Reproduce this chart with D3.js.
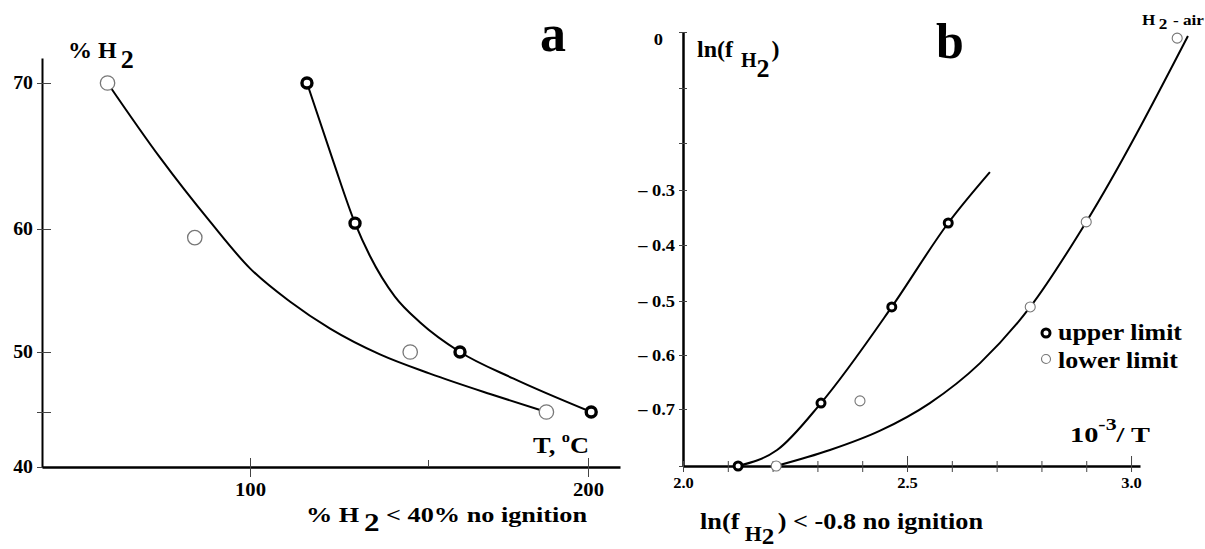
<!DOCTYPE html>
<html>
<head>
<meta charset="utf-8">
<script src="https://cdn.jsdelivr.net/npm/d3@7"></script>
<style>
    body { margin: 0; background: #fff; }
    svg text { font-family: 'Liberation Serif', 'Times New Roman', serif; font-weight: bold; fill: #000; }
</style>
</head>
<body>
<div id="chart"></div>
<script>
// ---- panel a: % H2 against T, degrees C ----
const upperA = [[116, 70], [129.5, 60.4], [160, 50], [201, 45]];
const lowerA = [[60, 70], [84.5, 59.3], [145, 50], [187, 45]];
// the hand-drawn fit lines
const upperFitA = [[116, 70], [123.3, 64.7], [129.5, 60.4], [133.7, 57.8], [140.7, 54.5], [147.8, 52.4], [160, 50], [176.6, 47.8], [201, 45]];
const lowerFitA = [[60, 70], [74.7, 64.9], [88.8, 60.5], [100, 56.8], [111.2, 54.1], [122.5, 51.9], [136.5, 49.8], [150.6, 48.2], [169.4, 46.5], [187, 45]];
const yTicksA = [40, 45, 50, 60, 70];
const yLabelsA = ['40', '', '50', '60', '70'];
const xTicksA = [100, 150, 200];
const xLabelsA = ['100', '', '200'];

// ---- panel b: ln(f H2) against 10^-3/T ----
const upperB = [[2.123, -0.8], [2.308, -0.689], [2.466, -0.511], [2.592, -0.36]];
const lowerB = [[2.208, -0.8], [2.395, -0.685], [2.775, -0.511], [2.9, -0.358], [3.103, -0.011]];
const upperFitB = [[2.123, -0.8], [2.21, -0.772], [2.308, -0.689], [2.466, -0.511], [2.592, -0.36], [2.685, -0.262]];
const lowerFitB = [[2.208, -0.8], [2.328, -0.772], [2.44, -0.738], [2.551, -0.689], [2.663, -0.615], [2.775, -0.511], [2.9, -0.358], [3.127, -0.007]];
const xTicksB = [2.0, 2.1, 2.2, 2.3, 2.4, 2.5, 2.6, 2.7, 2.8, 2.9, 3.0];
const xLabelsB = ['2.0', '', '', '', '', '2.5', '', '', '', '', '3.0'];
const yTicksB = [0, -0.1, -0.2, -0.3, -0.4, -0.5, -0.6, -0.7, -0.8];
const yLabelsB = ['0', '', '', '\u2013 0.3', '\u2013 0.4', '\u2013 0.5', '\u2013 0.6', '\u2013 0.7', ''];

const svg = d3.select('#chart').append('svg')
    .attr('width', 1205)
    .attr('height', 549)
    .attr('font-family', "'Liberation Serif', 'Times New Roman', serif");

// the printed axes are not quite even, so the scales follow the drawn ticks
const xA = d3.scaleLinear().domain([41.6, 100, 150, 200, 210]).range([42, 250, 428, 588, 620]);
const yA = d3.scaleLinear().domain([40, 45, 50, 60, 70, 71.7]).range([467, 412, 352, 229, 83, 58]);
const xB = d3.scaleLinear().domain([2.0, 3.02]).range([683, 1140]);
const yB = d3.scaleLinear()
    .domain([-0.8, -0.7, -0.6, -0.5, -0.4, -0.3, -0.2, -0.1, 0])
    .range([466, 409, 355, 301, 245, 190, 143, 88, 32]);

// scanned text is a bit wider than the font
function stretch(sel, k) {
    sel.each(function () {
        const w = this.getComputedTextLength();
        if (w > 0) d3.select(this).attr('textLength', w * k).attr('lengthAdjust', 'spacingAndGlyphs');
    });
}

function styleAxis(g, size, width) {
    g.attr('font-family', null).attr('font-size', null);
    g.select('.domain').attr('stroke', '#000').attr('stroke-width', width);
    g.selectAll('.tick line').attr('stroke', '#444').attr('stroke-width', 1);
    g.selectAll('.tick text').style('font-size', size + 'px');
}

// ---- panel a axes ----
const yAxisA = svg.append('g')
    .attr('transform', `translate(${xA(41.6)},0)`)
    .call(d3.axisLeft(yA).tickValues(yTicksA).tickFormat((d, i) => yLabelsA[i])
        .tickSize(0).tickSizeOuter(0).tickPadding(9));
styleAxis(yAxisA, 18, 2);
yAxisA.selectAll('.tick line').attr('x1', -5).attr('x2', 9);
stretch(yAxisA.selectAll('.tick text'), 1.1);

const xAxisA = svg.append('g')
    .attr('transform', `translate(0,${yA(40)})`)
    .call(d3.axisBottom(xA).tickValues(xTicksA).tickFormat((d, i) => xLabelsA[i])
        .tickSize(0).tickSizeOuter(0).tickPadding(16));
styleAxis(xAxisA, 18, 2.5);
xAxisA.selectAll('.tick line')
    .attr('y1', d => d === 150 ? -7 : -9)
    .attr('y2', d => d === 150 ? 0 : 10);
stretch(xAxisA.selectAll('.tick text'), 1.15);

// ---- panel b axes ----
const yAxisB = svg.append('g')
    .attr('transform', `translate(${xB(2.0)},0)`)
    .call(d3.axisLeft(yB).tickValues(yTicksB).tickFormat((d, i) => yLabelsB[i])
        .tickSize(0).tickSizeOuter(0).tickPadding(8));
styleAxis(yAxisB, 16, 2.5);
yAxisB.selectAll('.tick line').attr('x1', -4).attr('x2', 4);
yAxisB.selectAll('.tick text').filter(d => d === 0).attr('x', -20).attr('dy', '0.75em');
stretch(yAxisB.selectAll('.tick text'), 1.15);

const xAxisB = svg.append('g')
    .attr('transform', `translate(0,${yB(-0.8)})`)
    .call(d3.axisBottom(xB).tickValues(xTicksB).tickFormat((d, i) => xLabelsB[i])
        .tickSize(0).tickSizeOuter(0).tickPadding(11));
styleAxis(xAxisB, 15, 2.5);
xAxisB.selectAll('.tick line')
    .attr('y1', (d, i) => xLabelsB[i] && d > 2.0 ? -10 : -5)
    .attr('y2', 6);
stretch(xAxisB.selectAll('.tick text'), 1.1);

// ---- fit lines ----
function drawFit(data, x, y, width) {
    const line = d3.line()
        .x(d => x(d[0]))
        .y(d => y(d[1]))
        .curve(d3.curveMonotoneX);
    svg.append('path')
        .datum(data)
        .attr('d', line)
        .attr('fill', 'none')
        .attr('stroke', '#000')
        .attr('stroke-width', width);
}
drawFit(lowerFitA, xA, yA, 2);
drawFit(upperFitA, xA, yA, 2);
drawFit(lowerFitB, xB, yB, 2);
drawFit(upperFitB, xB, yB, 2);

// ---- points ----
function drawPoints(data, x, y, r, stroke, width, cls) {
    svg.selectAll('.' + cls)
        .data(data)
        .join('circle')
        .attr('class', cls)
        .attr('cx', d => x(d[0]))
        .attr('cy', d => y(d[1]))
        .attr('r', r)
        .attr('fill', '#fff')
        .attr('stroke', stroke)
        .attr('stroke-width', width);
}
drawPoints(lowerA, xA, yA, 7.2, '#777', 1.3, 'low-a');
drawPoints(upperA, xA, yA, 5, '#000', 3.4, 'up-a');
drawPoints(lowerB, xB, yB, 5, '#777', 1.1, 'low-b');
drawPoints(upperB, xB, yB, 4, '#000', 3, 'up-b');

// ---- panel a labels ----
const yTitleA = svg.append('text').attr('x', 68).attr('y', 58).style('font-size', '24px');
yTitleA.append('tspan').text('% H');
yTitleA.append('tspan').attr('dx', 4).attr('dy', 10).style('font-size', '26px').text('2');

svg.append('text')
    .attr('x', 553).attr('y', 51)
    .attr('text-anchor', 'middle')
    .style('font-size', '52px')
    .text('a');

const xTitleA = svg.append('text').attr('x', 533).attr('y', 453).style('font-size', '24px');
xTitleA.append('tspan').text('T, ');
xTitleA.append('tspan').attr('dy', -11).style('font-size', '15px').text('o');
xTitleA.append('tspan').attr('dy', 11).text('C');
stretch(xTitleA, 1.1);

const noteA = svg.append('text').attr('x', 306).attr('y', 522).style('font-size', '22px');
noteA.append('tspan').text('% H');
noteA.append('tspan').attr('dx', 4).attr('dy', 9).style('font-size', '26px').text('2');
noteA.append('tspan').attr('dy', -9).text(' < 40%  no ignition');
noteA.attr('textLength', 281).attr('lengthAdjust', 'spacingAndGlyphs');

// ---- panel b labels ----
const yTitleB = svg.append('text').attr('x', 697).attr('y', 57).style('font-size', '24px');
yTitleB.append('tspan').text('ln(f');
yTitleB.append('tspan').attr('dx', 8).attr('dy', 10).style('font-size', '20px').text('H');
yTitleB.append('tspan').attr('dy', 10).style('font-size', '26px').text('2');
yTitleB.append('tspan').attr('dx', 2).attr('dy', -20).text(')');

svg.append('text')
    .attr('x', 950).attr('y', 58)
    .attr('text-anchor', 'middle')
    .style('font-size', '50px')
    .text('b');

const airLabel = svg.append('text').attr('x', 1142).attr('y', 25).style('font-size', '15px');
airLabel.append('tspan').text('H');
airLabel.append('tspan').attr('dx', 3).attr('dy', 4).text('2');
airLabel.append('tspan').attr('dx', 5).attr('dy', -4).text('- air');
airLabel.attr('textLength', 62).attr('lengthAdjust', 'spacingAndGlyphs');

const xTitleB = svg.append('text').attr('x', 1070).attr('y', 442).style('font-size', '22px');
xTitleB.append('tspan').text('10');
xTitleB.append('tspan').attr('dy', -12).style('font-size', '17px').text('-3');
xTitleB.append('tspan').attr('dy', 12).text('/ T');
xTitleB.attr('textLength', 80).attr('lengthAdjust', 'spacingAndGlyphs');

const noteB = svg.append('text').attr('x', 700).attr('y', 529).style('font-size', '24px');
noteB.append('tspan').text('ln(f');
noteB.append('tspan').attr('dx', 5).attr('dy', 12).style('font-size', '20px').text('H');
noteB.append('tspan').attr('dy', 3).style('font-size', '23px').text('2');
noteB.append('tspan').attr('dx', 3).attr('dy', -15).text(')');
noteB.append('tspan').text(' < -0.8 no ignition');
noteB.attr('textLength', 283).attr('lengthAdjust', 'spacingAndGlyphs');

// ---- legend ----
const legend = svg.append('g').attr('transform', 'translate(1046,333)');
legend.append('circle')
    .attr('r', 4).attr('fill', '#fff').attr('stroke', '#000').attr('stroke-width', 3);
legend.append('circle')
    .attr('cy', 26).attr('r', 4.5).attr('fill', '#fff').attr('stroke', '#777').attr('stroke-width', 1.1);
legend.append('text')
    .attr('x', 12).attr('y', 7)
    .style('font-size', '23px')
    .attr('textLength', 124).attr('lengthAdjust', 'spacingAndGlyphs')
    .text('upper limit');
legend.append('text')
    .attr('x', 12).attr('y', 35)
    .style('font-size', '23px')
    .attr('textLength', 120).attr('lengthAdjust', 'spacingAndGlyphs')
    .text('lower limit');
</script>
</body>
</html>
